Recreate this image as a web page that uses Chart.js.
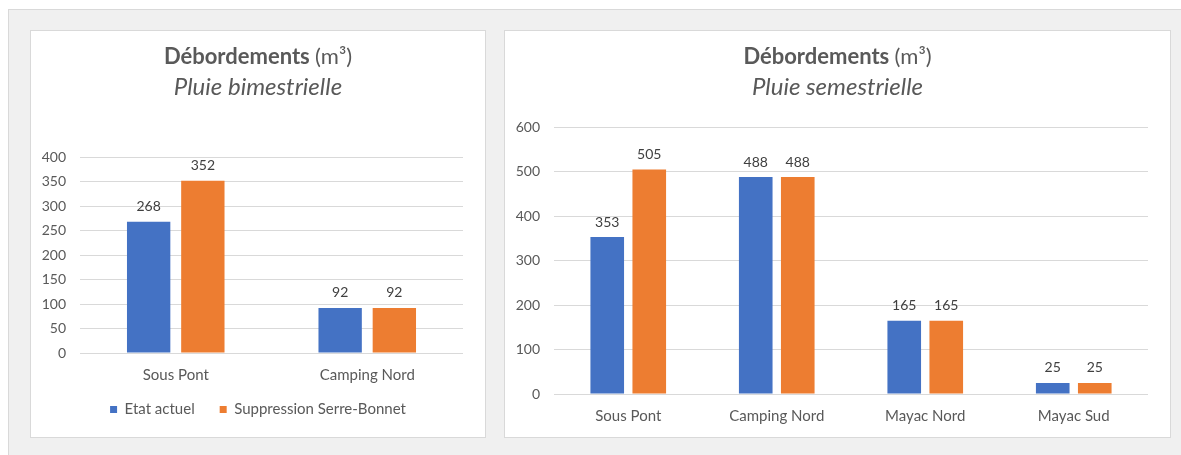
<!DOCTYPE html>
<html>
<head>
<meta charset="utf-8">
<script src="https://cdn.jsdelivr.net/npm/chart.js@4"></script>
<style>
  html, body { margin: 0; padding: 0; background: #fff; }
  body { width: 1181px; height: 455px; position: relative; overflow: hidden; font-family: Lato, sans-serif; }
  .frame { position: absolute; left: 8px; top: 9px; width: 1200px; height: 460px; background: #f0f0f0; border: 1px solid #d9d9d9; }
  .panel { position: absolute; background: #fff; border: 1px solid #d9d9d9; box-sizing: border-box; }
  #p1 { left: 30px; top: 30px; width: 456px; height: 408px; }
  #p2 { left: 504px; top: 30px; width: 667px; height: 408px; }
</style>
</head>
<body>
<div class="frame"></div>
<div class="panel" id="p1"><canvas id="chartBimestrielle"></canvas></div>
<div class="panel" id="p2"><canvas id="chartSemestrielle"></canvas></div>
<script>
// donnees
const seriesNames = ['Etat actuel', 'Suppression Serre-Bonnet'];
const catBimestrielle = ['Sous Pont', 'Camping Nord'];
const etatBimestrielle = [268, 92];
const suppBimestrielle = [352, 92];

const catSemestrielle = ['Sous Pont', 'Camping Nord', 'Mayac Nord', 'Mayac Sud'];
const etatSemestrielle = [353, 488, 165, 25];
const suppSemestrielle = [505, 488, 165, 25];

const titleBold = 'Débordements';
const titleUnit = '(m³)';

const BLUE = '#4472C4';
const ORANGE = '#ED7D31';
const TEXT = '#595959';
const FONT = 'Lato, sans-serif';

Chart.defaults.font.family = FONT;
Chart.defaults.color = TEXT;

// etiquettes de valeur au dessus des barres
const valueLabels = {
  id: 'valueLabels',
  afterDatasetsDraw(chart) {
    const ctx = chart.ctx;
    ctx.save();
    ctx.font = '14px ' + FONT;
    ctx.fillStyle = '#404040';
    ctx.textAlign = 'center';
    ctx.textBaseline = 'middle';
    chart.data.datasets.forEach((ds, i) => {
      chart.getDatasetMeta(i).data.forEach((bar, j) => {
        ctx.fillText(ds.data[j], bar.x, bar.y - 15);
      });
    });
    ctx.restore();
  }
};

// titre en deux graisses : le bloc titre de Chart.js garde la place, on ecrit par dessus
const mixedTitle = {
  id: 'mixedTitle',
  afterDraw(chart) {
    const box = chart.titleBlock;
    const ctx = chart.ctx;
    ctx.save();
    ctx.fillStyle = TEXT;
    ctx.textBaseline = 'middle';
    ctx.textAlign = 'left';
    const bold = 'bold 22px ' + FONT;
    const normal = '22px ' + FONT;
    ctx.font = bold;
    const w1 = ctx.measureText(titleBold + ' ').width;
    ctx.font = normal;
    const w2 = ctx.measureText(titleUnit).width;
    const x0 = (box.left + box.right) / 2 - (w1 + w2) / 2;
    const y = box.top + 13.2;
    ctx.font = bold;
    ctx.fillText(titleBold + ' ', x0, y);
    ctx.font = normal;
    ctx.fillText(titleUnit, x0 + w1, y);
    ctx.restore();
  }
};

// les axes sont serres, on agrandit seulement la zone de decoupe des libelles
const labelRoom = {
  id: 'labelRoom',
  afterLayout(chart) {
    chart.scales.x.bottom = chart.height;
    chart.scales.y.left = 0;
  }
};

function makeChart(id, labels, etat, supp, max, step, subtitle, opt) {
  return new Chart(document.getElementById(id), {
    type: 'bar',
    data: {
      labels: labels,
      datasets: [
        { label: seriesNames[0], data: etat, backgroundColor: BLUE },
        { label: seriesNames[1], data: supp, backgroundColor: ORANGE }
      ]
    },
    options: {
      responsive: true,
      maintainAspectRatio: false,
      animation: false,
      categoryPercentage: 0.566,
      barPercentage: 0.8,
      layout: { padding: { top: 13, left: 22, right: 22, bottom: opt.bottom } },
      plugins: {
        title: {
          display: true,
          text: titleBold + ' ' + titleUnit,
          color: 'rgba(0,0,0,0)',
          font: { size: 22, weight: 'bold' },
          padding: { top: 0, bottom: 2 }
        },
        subtitle: {
          display: true,
          text: subtitle,
          color: TEXT,
          font: { size: 24, style: 'italic' },
          padding: { top: 0, bottom: opt.gap }
        },
        legend: {
          display: opt.legend,
          position: 'bottom',
          labels: { boxWidth: 7, boxHeight: 7, padding: 25, font: { size: 15 }, color: TEXT }
        },
        tooltip: { enabled: false }
      },
      scales: {
        x: {
          grid: { display: false },
          border: { display: false },
          ticks: { font: { size: 15 }, color: TEXT, padding: 5 },
          afterFit: (scale) => { scale.height -= opt.shrink; }
        },
        y: {
          min: 0,
          max: max,
          ticks: { stepSize: step, font: { size: 14 }, color: TEXT, padding: 14 },
          grid: { color: '#d9d9d9', drawTicks: false },
          border: { display: false },
          afterFit: (scale) => { scale.width = 27; }
        }
      }
    },
    plugins: [valueLabels, labelRoom, mixedTitle]
  });
}

makeChart('chartBimestrielle', catBimestrielle, etatBimestrielle, suppBimestrielle, 400, 50,
  'Pluie bimestrielle', { legend: true, bottom: 10, gap: 56, shrink: 12 });
makeChart('chartSemestrielle', catSemestrielle, etatSemestrielle, suppSemestrielle, 600, 100,
  'Pluie semestrielle', { legend: false, bottom: 7, gap: 26, shrink: 0 });
</script>
</body>
</html>
